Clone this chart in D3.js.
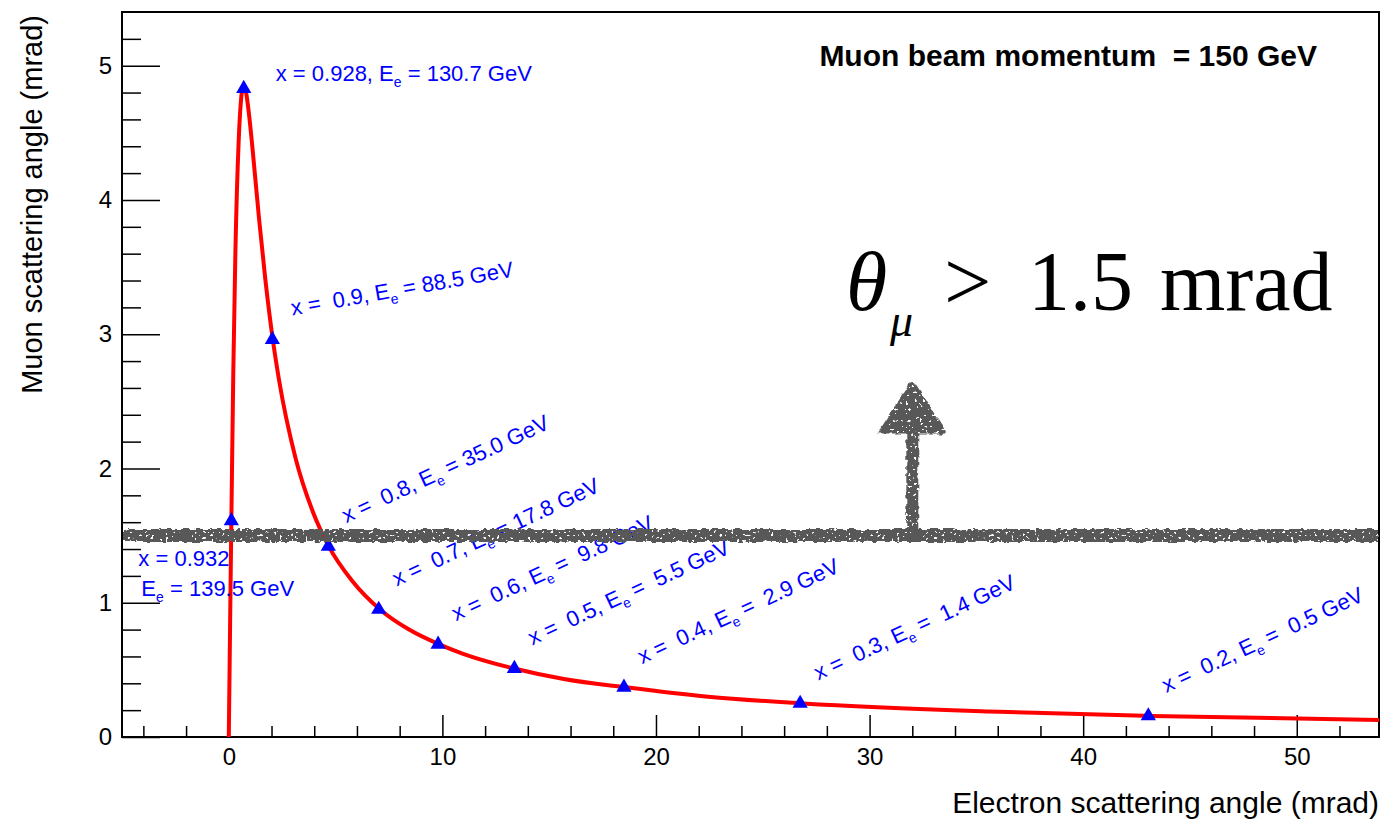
<!DOCTYPE html>
<html>
<head>
<meta charset="utf-8">
<script src="https://cdn.jsdelivr.net/npm/d3@7"></script>
<style>
  body { margin: 0; background: #fff; }
  text { font-family: "Liberation Sans", Arial, Helvetica, sans-serif; }
  text.serif { font-family: "Liberation Serif", "Times New Roman", serif; }
</style>
</head>
<body>
<div id="chart"></div>
<script>
// muon angle vs electron angle (mrad)
const curveTheta = [0, 0.035, 0.062, 0.095, 0.14, 0.21, 0.31, 0.46, 0.57, 0.66, 0.74, 0.82, 0.93,
  1.10, 1.41, 1.71, 2.06, 2.34, 3.12, 3.93, 4.68, 5.79, 7.08, 8.44, 9.85, 10.97, 13.36, 15.75,
  18.58, 22.44, 26.88, 35.6, 43.2, 54.0];
const curveMu = [0, 0.48, 0.85, 1.29, 1.86, 2.71, 3.62, 4.43, 4.74, 4.84, 4.84, 4.79, 4.66,
  4.40, 3.87, 3.41, 2.96, 2.67, 2.08, 1.68, 1.42, 1.16, 0.95, 0.80, 0.69, 0.62, 0.51, 0.43,
  0.37, 0.30, 0.25, 0.19, 0.157, 0.126];

// marked points
const pointX = ["0.932", "0.928", " 0.9", " 0.8", " 0.7", " 0.6", " 0.5", " 0.4", " 0.3", " 0.2"];
const pointEe = ["139.5", "130.7", "88.5", "35.0", "17.8", " 9.8", " 5.5", " 2.9", " 1.4", " 0.5"];
const pointTheta = [0.12, 0.70, 2.04, 4.66, 7.02, 9.80, 13.37, 18.50, 26.75, 43.05];
const pointMu = [1.61, 4.83, 2.96, 1.42, 0.95, 0.69, 0.51, 0.37, 0.25, 0.157];

const xTicks = [0, 10, 20, 30, 40, 50];
const yTicks = [0, 1, 2, 3, 4, 5];
const cutValue = 1.5;
const arrowX = 32;
const arrowTip = 2.66;
const arrowBase = 2.26;

const width = 1384, height = 823;
const margin = { top: 12, right: 5, bottom: 86, left: 122 };

const svg = d3
  .select("#chart")
  .append("svg")
  .attr("width", width)
  .attr("height", height);

const x = d3.scaleLinear().domain([-5, 53.85]).range([margin.left, width - margin.right]);
const y = d3.scaleLinear().domain([0, 5.4]).range([height - margin.bottom, margin.top]);

const defs = svg.append("defs");
defs.append("clipPath").attr("id", "plot")
  .append("rect")
  .attr("x", margin.left).attr("y", margin.top)
  .attr("width", x.range()[1] - margin.left)
  .attr("height", y.range()[0] - margin.top);

// rough brush look for the cut line
const f = defs.append("filter").attr("id", "rough")
  .attr("filterUnits", "userSpaceOnUse")
  .attr("x", 0).attr("y", 0).attr("width", width).attr("height", height);
f.append("feTurbulence").attr("type", "fractalNoise").attr("baseFrequency", "0.18")
  .attr("numOctaves", 1).attr("seed", 4).attr("result", "noise");
f.append("feDisplacementMap").attr("in", "SourceGraphic").attr("in2", "noise")
  .attr("scale", 6).attr("xChannelSelector", "R").attr("yChannelSelector", "G").attr("result", "disp");
f.append("feTurbulence").attr("type", "fractalNoise").attr("baseFrequency", "0.35")
  .attr("numOctaves", 1).attr("seed", 11).attr("result", "grain");
f.append("feColorMatrix").attr("in", "grain").attr("type", "matrix")
  .attr("values", "0 0 0 0 0  0 0 0 0 0  0 0 0 0 0  -30 0 0 0 20.6").attr("result", "mask");
f.append("feComposite").attr("in", "disp").attr("in2", "mask").attr("operator", "in");

// axes
const minorX = d3.range(-4, 54, 2).filter((d) => d % 10 !== 0);
const minorY = d3.range(1, 27).filter((i) => i % 5 !== 0).map((i) => i * 0.2);
const axisY = y.range()[0];

svg.append("g")
  .attr("transform", `translate(0,${axisY})`)
  .call(d3.axisBottom(x).tickValues(minorX).tickSize(-11).tickFormat(""))
  .call((g) => g.select(".domain").remove());

svg.append("g")
  .attr("transform", `translate(0,${axisY})`)
  .call(d3.axisBottom(x).tickValues(xTicks).tickSize(-22).tickPadding(11).tickFormat(d3.format("d")))
  .call((g) => g.select(".domain").remove())
  .call((g) => g.selectAll("text").attr("font-size", 24).attr("fill", "#000"));

svg.append("g")
  .attr("transform", `translate(${margin.left},0)`)
  .call(d3.axisLeft(y).tickValues(minorY).tickSize(-19).tickFormat(""))
  .call((g) => g.select(".domain").remove());

svg.append("g")
  .attr("transform", `translate(${margin.left},0)`)
  .call(d3.axisLeft(y).tickValues(yTicks).tickSize(-38).tickPadding(10).tickFormat(d3.format("d")))
  .call((g) => g.select(".domain").remove())
  .call((g) => g.selectAll("text").attr("font-size", 24).attr("fill", "#000"));

svg.selectAll(".tick line").attr("stroke", "#000").attr("stroke-width", 1.5);

svg.append("rect")
  .attr("x", margin.left).attr("y", margin.top)
  .attr("width", x.range()[1] - margin.left)
  .attr("height", axisY - margin.top)
  .attr("fill", "none").attr("stroke", "#000").attr("stroke-width", 2);

svg.append("text")
  .attr("x", x.range()[1]).attr("y", 813)
  .attr("text-anchor", "end").attr("font-size", 30)
  .text("Electron scattering angle (mrad)");

svg.append("text")
  .attr("transform", "translate(42,15) rotate(-90)")
  .attr("text-anchor", "end").attr("font-size", 29)
  .text("Muon scattering angle (mrad)");

// curve
const curve = curveTheta.map((t, i) => [t, curveMu[i]]);
svg.append("path")
  .datum(curve)
  .attr("clip-path", "url(#plot)")
  .attr("fill", "none").attr("stroke", "#ff0000").attr("stroke-width", 4)
  .attr("d", d3.line().x((d) => x(d[0])).y((d) => y(d[1])).curve(d3.curveMonotoneX));

// labels
const layout = pointX.map((d, i) =>
  i === 0 ? { dx: -93, dy: 45, rot: 0 }
  : i === 1 ? { dx: 32, dy: -8, rot: 0 }
  : i === 2 ? { dx: 20, dy: -24, rot: -10 }
  : { dx: 18, dy: -23, rot: -25 });

const labels = svg.append("g").attr("fill", "#0000ff").attr("font-size", 22);
pointX.forEach((xv, i) => {
  const l = layout[i];
  const g = labels.append("g")
    .attr("transform", `translate(${x(pointTheta[i]) + l.dx},${y(pointMu[i]) + l.dy}) rotate(${l.rot})`);
  if (i === 0) {
    g.append("text").text(`x = ${xv}`);
    const t2 = g.append("text").attr("x", 3).attr("y", 30);
    t2.append("tspan").text("E");
    t2.append("tspan").attr("font-size", 14).attr("dy", 6).text("e");
    t2.append("tspan").attr("dy", -6).text(` = ${pointEe[i]} GeV`);
  } else {
    const t = g.append("text").attr("xml:space", "preserve").style("white-space", "pre");
    t.append("tspan").text(`x = ${xv}, E`);
    t.append("tspan").attr("font-size", 14).attr("dy", 6).text("e");
    t.append("tspan").attr("dy", -6).text(` = ${pointEe[i]} GeV`);
  }
});

svg.append("g")
  .selectAll("path")
  .data(pointTheta)
  .join("path")
  .attr("transform", (d, i) => `translate(${x(d)},${y(pointMu[i])})`)
  .attr("d", d3.symbol(d3.symbolTriangle, 100))
  .attr("fill", "#0000ff");

// cut line with arrow
const cut = svg.append("g").attr("filter", "url(#rough)").attr("fill", "#595959");
cut.append("line")
  .attr("x1", x(-5) + 2).attr("x2", x.range()[1] - 1)
  .attr("y1", y(cutValue)).attr("y2", y(cutValue))
  .attr("stroke", "#595959").attr("stroke-width", 13);
cut.append("line")
  .attr("x1", x(arrowX)).attr("x2", x(arrowX))
  .attr("y1", y(cutValue)).attr("y2", y(arrowBase) - 2)
  .attr("stroke", "#595959").attr("stroke-width", 12);
cut.append("path")
  .attr("d", `M${x(arrowX)},${y(arrowTip)} L${x(arrowX) + 35},${y(arrowBase)} L${x(arrowX) - 35},${y(arrowBase)} Z`);

svg.append("text")
  .attr("x", x.range()[1] - 62).attr("y", 66)
  .attr("text-anchor", "end").attr("font-size", 30).attr("font-weight", "bold")
  .attr("xml:space", "preserve").style("white-space", "pre")
  .text("Muon beam momentum  = 150 GeV");

const big = svg.append("g").attr("font-size", 84).attr("fill", "#000");
big.append("text").attr("class", "serif").attr("x", 846).attr("y", 310).attr("font-style", "italic").text("θ");
big.append("text").attr("class", "serif").attr("x", 890).attr("y", 336).attr("font-size", 46).attr("font-style", "italic").text("μ");
big.append("text").attr("class", "serif").attr("x", 944).attr("y", 310).text(">");
big.append("text").attr("class", "serif").attr("x", 1028).attr("y", 310).text("1.5");
big.append("text").attr("class", "serif").attr("x", 1160).attr("y", 310).text("mrad");
</script>
</body>
</html>
